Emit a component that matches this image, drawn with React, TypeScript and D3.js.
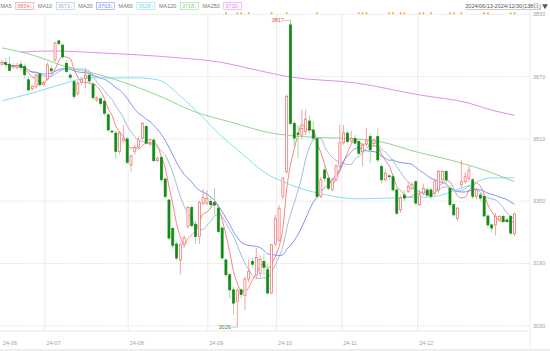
import { useRef, useEffect } from "react";
import * as d3 from "d3";

// daily candles, 2024/06/13 .. 2024/12/30
const opens = [
  3702, 3706, 3702, 3696, 3693, 3702, 3696, 3662, 3639, 3644, 3677, 3650, 3664, 3690, 3713, 3762, 3751, 3704, 3674, 3657,
  3627, 3656, 3666, 3674, 3650, 3610, 3613, 3606, 3572, 3530, 3525, 3478, 3506, 3510, 3443, 3478, 3490, 3512, 3542, 3497,
  3507, 3454, 3462, 3407, 3353, 3280, 3240, 3199, 3238, 3285, 3334, 3291, 3259, 3345, 3345, 3349, 3346, 3332, 3281, 3199,
  3161, 3122, 3092, 3122, 3108, 3150, 3195, 3160, 3165, 3195, 3174, 3114, 3240, 3250, 3362, 3426, 3803, 3550, 3525, 3520,
  3529, 3556, 3533, 3510, 3362, 3430, 3409, 3380, 3405, 3440, 3500, 3525, 3505, 3511, 3503, 3477, 3499, 3516, 3499, 3516,
  3439, 3405, 3415, 3413, 3379, 3328, 3366, 3375, 3383, 3400, 3341, 3371, 3379, 3379, 3371, 3379, 3405, 3426, 3383, 3341,
  3306, 3392, 3400, 3409, 3405, 3362, 3366, 3362, 3312, 3289, 3289, 3302, 3311, 3302, 3311, 3266,
];
const highs = [
  3712, 3718, 3721, 3704, 3706, 3712, 3704, 3670, 3650, 3678, 3680, 3660, 3706, 3700, 3760, 3765, 3755, 3712, 3680, 3662,
  3660, 3668, 3693, 3680, 3655, 3620, 3618, 3610, 3575, 3534, 3530, 3530, 3545, 3515, 3470, 3495, 3515, 3553, 3545, 3508,
  3512, 3465, 3466, 3410, 3356, 3285, 3245, 3242, 3262, 3338, 3340, 3300, 3352, 3382, 3378, 3362, 3383, 3340, 3285, 3202,
  3165, 3130, 3125, 3126, 3156, 3200, 3205, 3230, 3210, 3215, 3190, 3240, 3315, 3340, 3412, 3625, 3817, 3555, 3545, 3585,
  3585, 3570, 3555, 3515, 3412, 3440, 3415, 3410, 3445, 3546, 3546, 3530, 3530, 3520, 3510, 3500, 3537, 3525, 3512, 3537,
  3445, 3430, 3420, 3420, 3385, 3365, 3378, 3400, 3400, 3405, 3380, 3395, 3385, 3385, 3405, 3430, 3430, 3430, 3390, 3345,
  3336, 3456, 3425, 3440, 3410, 3385, 3372, 3366, 3315, 3292, 3320, 3315, 3316, 3306, 3316, 3320,
];
const lows = [
  3697, 3692, 3683, 3690, 3688, 3686, 3666, 3632, 3634, 3640, 3645, 3645, 3660, 3680, 3708, 3750, 3718, 3680, 3660, 3612,
  3620, 3650, 3640, 3650, 3610, 3605, 3595, 3570, 3528, 3524, 3460, 3470, 3500, 3445, 3426, 3470, 3485, 3508, 3495, 3492,
  3450, 3450, 3400, 3358, 3250, 3228, 3198, 3161, 3230, 3280, 3283, 3240, 3240, 3340, 3340, 3330, 3315, 3268, 3200, 3155,
  3100, 3058, 3026, 3100, 3070, 3140, 3180, 3150, 3155, 3160, 3110, 3112, 3235, 3245, 3355, 3420, 3545, 3486, 3460, 3510,
  3520, 3525, 3505, 3355, 3358, 3400, 3378, 3375, 3400, 3436, 3495, 3498, 3498, 3495, 3468, 3440, 3490, 3448, 3490, 3450,
  3395, 3400, 3405, 3375, 3315, 3320, 3350, 3370, 3378, 3340, 3338, 3365, 3360, 3355, 3365, 3370, 3400, 3395, 3335, 3310,
  3300, 3385, 3395, 3400, 3355, 3355, 3352, 3308, 3280, 3270, 3262, 3298, 3294, 3294, 3263, 3262,
];
const closes = [
  3707, 3701, 3686, 3697, 3698, 3693, 3675, 3636, 3645, 3674, 3649, 3655, 3700, 3685, 3756, 3755, 3721, 3683, 3668, 3619,
  3653, 3662, 3674, 3659, 3616, 3615, 3601, 3576, 3533, 3529, 3478, 3525, 3512, 3450, 3466, 3488, 3508, 3550, 3499, 3501,
  3454, 3460, 3405, 3362, 3255, 3236, 3204, 3238, 3256, 3334, 3287, 3259, 3347, 3359, 3357, 3341, 3340, 3272, 3204, 3161,
  3122, 3088, 3122, 3110, 3150, 3170, 3188, 3205, 3200, 3180, 3114, 3238, 3305, 3332, 3409, 3619, 3550, 3512, 3522, 3537,
  3561, 3533, 3512, 3362, 3405, 3409, 3383, 3405, 3440, 3500, 3525, 3503, 3511, 3499, 3473, 3494, 3507, 3482, 3507, 3456,
  3405, 3422, 3413, 3379, 3319, 3358, 3358, 3388, 3392, 3345, 3366, 3383, 3366, 3362, 3400, 3426, 3426, 3405, 3341, 3315,
  3332, 3400, 3413, 3430, 3362, 3379, 3358, 3312, 3289, 3281, 3311, 3311, 3298, 3298, 3268, 3317,
];

const slotCount = 138;
const monthLabels = ["24-06", "24-07", "24-08", "24-09", "24-10", "24-11", "24-12"];
const monthStarts = [0, 12, 35, 57, 76, 94, 115];
const priceTicks = [3030, 3190, 3350, 3510, 3670, 3830];

// long averages (day index, value)
const ma60Days = [0, 8, 17, 23, 35, 41, 47, 51, 57, 63, 69, 76, 84, 94, 105, 113, 122, 129, 135];
const ma60Vals = [3608, 3628, 3654, 3667, 3667, 3662, 3620, 3584, 3525, 3474, 3425, 3392, 3369, 3356, 3359, 3361, 3387, 3410, 3410];
const ma120Days = [0, 8, 17, 26, 34, 42, 51, 60, 71, 81, 93, 100, 109, 118, 127, 135];
const ma120Vals = [3744, 3726, 3695, 3674, 3649, 3618, 3579, 3554, 3525, 3515, 3510, 3502, 3477, 3456, 3430, 3400];
const ma250Days = [5, 13, 26, 47, 57, 67, 76, 93, 110, 123, 129, 135];
const ma250Vals = [3733, 3736, 3731, 3718, 3708, 3687, 3669, 3654, 3623, 3602, 3584, 3571];

const eventDays = [59, 62, 63, 65, 71, 75, 83, 94, 95, 96, 102, 103, 105, 106, 110, 111, 113, 118, 119, 121, 127, 128, 134, 135];

const legendNames = ["MA5", "MA10", "MA20", "MA60", "MA120", "MA250"];
const legendValues = ["3854↓", "3673↓", "3703↓", "3628↑", "3718↓", "3732↑"];
const maColors = ["#f07878", "#98b4d4", "#7486f0", "#74dced", "#84d084", "#e27cf0"];

const rangeText = "2024/06/13-2024/12/30(138日)";

const W = 550;
const H = 351;

export default function App() {
  const svgRef = useRef<SVGSVGElement>(null);

  useEffect(() => {
    const svg = d3.select(svgRef.current);
    svg.selectAll("*").remove();

    const plotRight = 530;
    const plotBottom = 331;
    const font = "Liberation Sans, Arial, sans-serif";

    const x = d3.scaleBand<number>()
      .domain(d3.range(slotCount))
      .range([0, 524])
      .paddingInner(0.3)
      .paddingOuter(0.15);
    const cx = (i: number) => (x(i) ?? 0) + x.bandwidth() / 2;

    // date axis runs on its own (narrower) scale, as in the source chart
    const xDate = d3.scaleLinear().domain([0, slotCount]).range([1.5, 501]);

    const y = d3.scaleLinear().domain([3030, 3830]).range([325.7, 14.4]);

    svg.append("rect").attr("width", W).attr("height", H).attr("fill", "#fff");

    // grid
    svg.append("g")
      .selectAll("line")
      .data(priceTicks)
      .join("line")
      .attr("x1", 0)
      .attr("x2", plotRight)
      .attr("y1", d => y(d))
      .attr("y2", d => y(d))
      .attr("stroke", "#e4e4e4")
      .attr("stroke-dasharray", "1.5,1");

    svg.append("g")
      .selectAll("line")
      .data(monthStarts.slice(1))
      .join("line")
      .attr("x1", d => xDate(d))
      .attr("x2", d => xDate(d))
      .attr("y1", 14)
      .attr("y2", plotBottom)
      .attr("stroke", "#ececec");

    svg.append("line")
      .attr("x1", plotRight).attr("x2", plotRight)
      .attr("y1", 0).attr("y2", H)
      .attr("stroke", "#ececec");
    svg.append("line")
      .attr("x1", 0).attr("x2", plotRight)
      .attr("y1", plotBottom).attr("y2", plotBottom)
      .attr("stroke", "#e8e8e8");
    svg.append("rect")
      .attr("x", 0).attr("y", 349).attr("width", W).attr("height", 2)
      .attr("fill", "#eeeeee");

    // price labels
    svg.append("g")
      .selectAll("text")
      .data(priceTicks)
      .join("text")
      .attr("x", 533)
      .attr("y", d => y(d) + 2)
      .attr("font-size", 5.5)
      .attr("font-family", font)
      .attr("fill", "#a0a0a0")
      .text(d => d);

    // month labels
    svg.append("g")
      .selectAll("text")
      .data(monthStarts)
      .join("text")
      .attr("x", d => xDate(d) + 1.5)
      .attr("y", 345)
      .attr("font-size", 5.5)
      .attr("font-family", font)
      .attr("fill", "#a0a0a0")
      .text((_, i) => monthLabels[i]);

    // moving averages
    const maOf = (n: number) =>
      closes.map((_, i) => d3.mean(closes.slice(Math.max(0, i - n + 1), i + 1)) as number);
    const shortSeries = [5, 10, 20].map(n => maOf(n).map((v, i) => ({ i, v })));
    const longSeries = [
      ma60Days.map((d, k) => ({ i: d, v: ma60Vals[k] })),
      ma120Days.map((d, k) => ({ i: d, v: ma120Vals[k] })),
      ma250Days.map((d, k) => ({ i: d, v: ma250Vals[k] })),
    ];
    const lineGen = d3.line<{ i: number; v: number }>()
      .x(d => cx(d.i))
      .y(d => y(d.v))
      .curve(d3.curveMonotoneX);

    const maG = svg.append("g").attr("fill", "none").attr("stroke-width", 0.9);
    [...shortSeries, ...longSeries].forEach((s, k) => {
      maG.append("path")
        .datum(s)
        .attr("stroke", maColors[k])
        .attr("d", lineGen);
    });

    // candles
    const days = d3.range(closes.length);
    const up = (i: number) => closes[i] >= opens[i];
    const bw = x.bandwidth();

    const cg = svg.append("g");
    cg.selectAll("line.wick")
      .data(days)
      .join("line")
      .attr("class", "wick")
      .attr("x1", d => cx(d))
      .attr("x2", d => cx(d))
      .attr("y1", d => y(highs[d]))
      .attr("y2", d => y(lows[d]))
      .attr("stroke", d => (up(d) ? "#f58a8a" : "#8fcf8f"))
      .attr("stroke-width", 0.8);

    cg.selectAll("rect.body")
      .data(days)
      .join("rect")
      .attr("class", "body")
      .attr("x", d => (x(d) ?? 0) + 0.3)
      .attr("width", bw - 0.6)
      .attr("y", d => y(Math.max(opens[d], closes[d])))
      .attr("height", d => Math.max(0.8, Math.abs(y(opens[d]) - y(closes[d]))))
      .attr("fill", d => (up(d) ? "#fff" : "#138a13"))
      .attr("stroke", d => (up(d) ? "#f06a6a" : "#138a13"))
      .attr("stroke-width", 0.7);

    // extremes
    const hiIdx = d3.maxIndex(highs);
    const loIdx = d3.minIndex(lows);
    svg.append("line")
      .attr("x1", cx(hiIdx) - 6).attr("x2", cx(hiIdx))
      .attr("y1", y(highs[hiIdx]) + 1).attr("y2", y(highs[hiIdx]) + 1)
      .attr("stroke", "#7fc8d8").attr("stroke-width", 0.6);
    svg.append("text")
      .attr("x", cx(hiIdx) - 6.5)
      .attr("y", y(highs[hiIdx]) + 3)
      .attr("text-anchor", "end")
      .attr("font-size", 5.5)
      .attr("font-family", font)
      .attr("fill", "#e05050")
      .text(highs[hiIdx]);
    svg.append("line")
      .attr("x1", cx(loIdx) - 6).attr("x2", cx(loIdx))
      .attr("y1", y(lows[loIdx])).attr("y2", y(lows[loIdx]))
      .attr("stroke", "#7fc8d8").attr("stroke-width", 0.6);
    svg.append("text")
      .attr("x", cx(loIdx) - 6.5)
      .attr("y", y(lows[loIdx]) + 2)
      .attr("text-anchor", "end")
      .attr("font-size", 5.5)
      .attr("font-family", font)
      .attr("fill", "#3a8a3a")
      .text(lows[loIdx]);

    // event markers
    svg.append("g")
      .selectAll("circle")
      .data(eventDays)
      .join("circle")
      .attr("cx", d => cx(d))
      .attr("cy", 13.3)
      .attr("r", 1)
      .attr("fill", "#f5a623");

    // legend
    const lg = svg.append("g").attr("font-family", font).attr("font-size", 5.5);
    let lx = 0.5;
    legendNames.forEach((name, k) => {
      const t = lg.append("text").attr("x", lx).attr("y", 8).attr("fill", "#777").text(name);
      lx += (t.node() as SVGTextElement).getComputedTextLength() + 4;
      const vt = lg.append("text")
        .attr("x", lx + 1.5)
        .attr("y", 8)
        .attr("fill", maColors[k])
        .text(legendValues[k]);
      const vw = (vt.node() as SVGTextElement).getComputedTextLength();
      lg.append("rect")
        .attr("x", lx).attr("y", 2.5).attr("width", vw + 3).attr("height", 7)
        .attr("fill", "none")
        .attr("stroke", maColors[k])
        .attr("stroke-width", 0.5);
      lx += vw + 7;
    });

    const rt = svg.append("text")
      .attr("x", 541)
      .attr("y", 8)
      .attr("text-anchor", "end")
      .attr("font-family", font)
      .attr("font-size", 5.5)
      .attr("fill", "#555")
      .text(rangeText);
    const rw = (rt.node() as SVGTextElement).getComputedTextLength();
    svg.append("line")
      .attr("x1", 541 - rw).attr("x2", 541)
      .attr("y1", 9.5).attr("y2", 9.5)
      .attr("stroke", "#999").attr("stroke-width", 0.5);
    svg.append("path")
      .attr("d", d3.symbol(d3.symbolTriangle, 14)())
      .attr("transform", "translate(545,6) rotate(180)")
      .attr("fill", "#555");
  }, []);

  return (
    <div style={{ position: "fixed", left: 0, top: 0, width: W, height: H }}>
      <svg ref={svgRef} width={W} height={H} style={{ display: "block" }} />
    </div>
  );
}
